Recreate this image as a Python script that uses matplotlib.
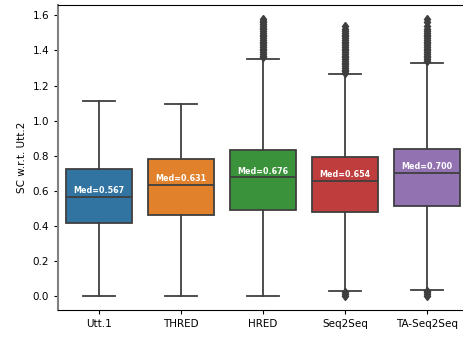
import matplotlib
matplotlib.use('Agg')
import matplotlib.pyplot as plt

models = ['Utt.1', 'THRED', 'HRED', 'Seq2Seq', 'TA-Seq2Seq']
colors = ['#3274a1', '#e1812c', '#3a923a', '#c03d3e', '#9372b2']

# box summary per model
q1 = [0.418, 0.464, 0.490, 0.479, 0.513]
med = [0.567, 0.631, 0.676, 0.654, 0.700]
q3 = [0.722, 0.779, 0.834, 0.792, 0.840]
whislo = [0.0, 0.0, 0.0, 0.030, 0.036]
whishi = [1.113, 1.093, 1.353, 1.264, 1.330]

# outliers beyond the whiskers
fliers = [
    [],
    [],
    [1.36, 1.37, 1.38, 1.39, 1.40, 1.41, 1.42, 1.43, 1.44, 1.45, 1.46, 1.47,
     1.48, 1.49, 1.50, 1.51, 1.52, 1.53, 1.54, 1.55, 1.56, 1.57, 1.58],
    [1.27, 1.28, 1.29, 1.30, 1.31, 1.32, 1.33, 1.34, 1.35, 1.36, 1.37, 1.38,
     1.39, 1.40, 1.41, 1.42, 1.43, 1.44, 1.45, 1.46, 1.47, 1.48, 1.49, 1.50,
     1.51, 1.52, 1.54, 0.02, 0.01, 0.0],
    [1.34, 1.35, 1.36, 1.37, 1.38, 1.39, 1.40, 1.41, 1.42, 1.43, 1.44, 1.45,
     1.46, 1.47, 1.48, 1.49, 1.50, 1.51, 1.52, 1.54, 1.56, 1.58,
     0.03, 0.02, 0.01, 0.0],
]

stats = []
for i, name in enumerate(models):
    stats.append({'label': name, 'q1': q1[i], 'med': med[i], 'q3': q3[i],
                  'whislo': whislo[i], 'whishi': whishi[i], 'fliers': fliers[i]})

line_col = '#3f3f3f'
lw = 1.3

fig = plt.figure(figsize=(4.64, 3.37), dpi=100)
ax = fig.add_axes([58 / 464, 27 / 337, 410 / 464, 305 / 337])

positions = list(range(len(models)))
bp = ax.bxp(stats, positions=positions, widths=0.8, patch_artist=True,
            boxprops=dict(edgecolor=line_col, linewidth=lw),
            medianprops=dict(color=line_col, linewidth=lw),
            whiskerprops=dict(color=line_col, linewidth=lw),
            capprops=dict(color=line_col, linewidth=lw),
            flierprops=dict(marker='d', markersize=4.5, markerfacecolor=line_col,
                            markeredgecolor=line_col, linestyle='none'),
            capwidths=0.4)
for patch, c in zip(bp['boxes'], colors):
    patch.set_facecolor(c)

for i, m in enumerate(med):
    ax.text(positions[i], m + 0.036, 'Med=%.3f' % m, ha='center', va='center',
            color='white', fontsize=5.8, fontweight='bold')

ax.set_xlim(-0.5, 4.5)
ax.set_ylim(-0.08, 1.659)
ax.set_yticks([0.0, 0.2, 0.4, 0.6, 0.8, 1.0, 1.2, 1.4, 1.6])
ax.set_xticks(positions)
ax.set_xticklabels(models)
ax.tick_params(labelsize=7.5, length=3)
ax.set_ylabel('SC w.r.t. Utt.2', fontsize=7.5)
ax.spines['left'].set_color('#808080')
ax.spines['left'].set_linewidth(1.5)
ax.spines['right'].set_visible(False)

fig.savefig('out.png', dpi=100)
